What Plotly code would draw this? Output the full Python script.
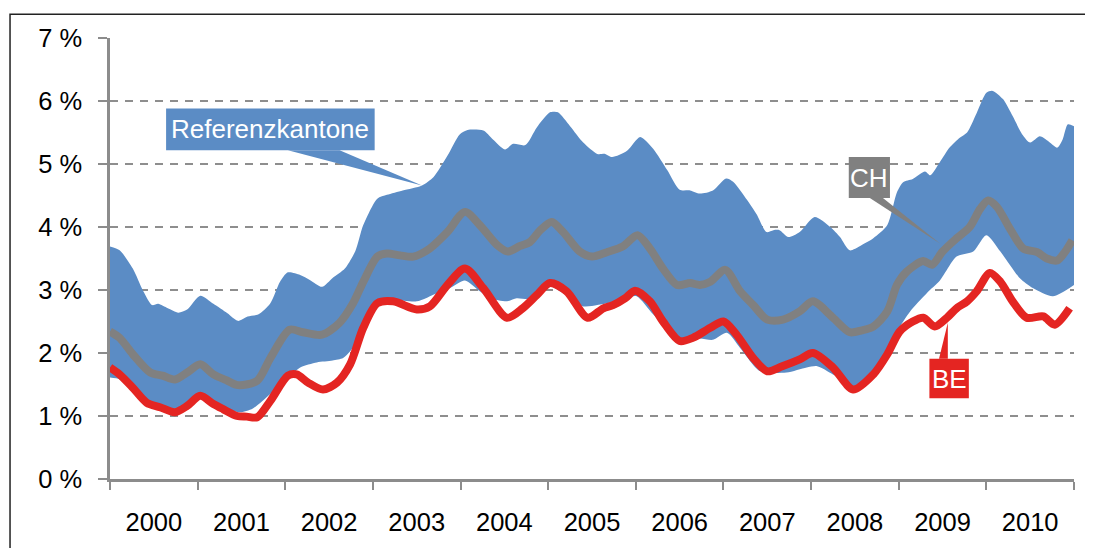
import plotly.graph_objects as go

# ---------------- data (decimal years, percent) ----------------
band_upper_x = [2000.00, 2000.11, 2000.26, 2000.38, 2000.48, 2000.55, 2000.66, 2000.78, 2000.88, 2001.03,
                2001.18, 2001.34, 2001.46, 2001.57, 2001.69, 2001.83, 2001.94, 2002.03, 2002.17, 2002.28,
                2002.42, 2002.54, 2002.68, 2002.80, 2002.89, 2003.05, 2003.16, 2003.34, 2003.56, 2003.69,
                2003.85, 2003.99, 2004.08, 2004.26, 2004.37, 2004.51, 2004.60, 2004.74, 2004.87, 2005.02,
                2005.11, 2005.25, 2005.40, 2005.56, 2005.65, 2005.73, 2005.90, 2006.05, 2006.20, 2006.36,
                2006.50, 2006.62, 2006.73, 2006.88, 2007.03, 2007.11, 2007.27, 2007.38, 2007.49, 2007.57,
                2007.64, 2007.74, 2007.87, 2008.04, 2008.22, 2008.33, 2008.44, 2008.56, 2008.71, 2008.87,
                2008.98, 2009.05, 2009.16, 2009.30, 2009.36, 2009.47, 2009.58, 2009.70, 2009.78, 2009.89,
                2010.00, 2010.07, 2010.19, 2010.30, 2010.41, 2010.50, 2010.61, 2010.70, 2010.81, 2010.87,
                2010.93, 2011.00]
band_upper = [3.69, 3.63, 3.34, 2.98, 2.76, 2.78, 2.71, 2.64, 2.69, 2.91,
              2.78, 2.63, 2.51, 2.58, 2.61, 2.79, 3.13, 3.28, 3.24, 3.16,
              3.05, 3.19, 3.34, 3.62, 4.03, 4.45, 4.51, 4.58, 4.66, 4.79,
              5.13, 5.47, 5.54, 5.53, 5.39, 5.23, 5.32, 5.30, 5.58, 5.82,
              5.82, 5.60, 5.34, 5.16, 5.16, 5.11, 5.21, 5.43, 5.24, 4.90,
              4.59, 4.58, 4.53, 4.58, 4.77, 4.72, 4.43, 4.20, 3.92, 3.95,
              3.95, 3.84, 3.92, 4.16, 4.00, 3.84, 3.63, 3.70, 3.82, 4.03,
              4.55, 4.71, 4.76, 4.88, 4.82, 5.03, 5.26, 5.42, 5.50, 5.81,
              6.13, 6.16, 6.03, 5.76, 5.47, 5.34, 5.44, 5.37, 5.26, 5.39,
              5.63, 5.60]

band_lower_x = [2000.00, 2000.11, 2000.26, 2000.42, 2000.57, 2000.74, 2000.88, 2001.03, 2001.18, 2001.31,
                2001.48, 2001.63, 2001.83, 2002.02, 2002.17, 2002.36, 2002.54, 2002.66, 2002.77, 2002.85,
                2002.97, 2003.08, 2003.23, 2003.50, 2003.73, 2003.88, 2004.05, 2004.22, 2004.34, 2004.53,
                2004.64, 2004.79, 2004.87, 2005.02, 2005.17, 2005.40, 2005.56, 2005.71, 2005.90, 2006.01,
                2006.20, 2006.36, 2006.47, 2006.73, 2006.88, 2007.04, 2007.19, 2007.42, 2007.72, 2007.95,
                2008.07, 2008.25, 2008.41, 2008.48, 2008.71, 2008.87, 2008.98, 2009.13, 2009.32, 2009.47,
                2009.66, 2009.85, 2010.00, 2010.16, 2010.38, 2010.53, 2010.76, 2011.00]
band_lower = [1.61, 1.58, 1.40, 1.18, 1.12, 1.05, 1.14, 1.28, 1.18, 1.12,
              1.06, 1.12, 1.35, 1.58, 1.77, 1.85, 1.88, 1.92, 2.08, 2.25,
              2.55, 2.78, 2.84, 2.82, 2.95, 3.03, 3.15, 2.98, 2.87, 2.82,
              2.87, 2.86, 2.98, 3.06, 2.95, 2.74, 2.76, 2.80, 2.88, 2.90,
              2.61, 2.40, 2.20, 2.23, 2.21, 2.32, 2.08, 1.71, 1.69, 1.77,
              1.79, 1.66, 1.53, 1.45, 1.66, 1.98, 2.34, 2.66, 2.95, 3.15,
              3.53, 3.61, 3.87, 3.61, 3.19, 3.03, 2.90, 3.08]

ch_x = [2000.00, 2000.11, 2000.26, 2000.46, 2000.60, 2000.74, 2000.88, 2001.03, 2001.18, 2001.34,
        2001.46, 2001.68, 2001.83, 2002.05, 2002.20, 2002.42, 2002.62, 2002.77, 2002.89, 2003.05,
        2003.16, 2003.31, 2003.46, 2003.65, 2003.85, 2004.05, 2004.22, 2004.42, 2004.54, 2004.68,
        2004.79, 2004.91, 2005.04, 2005.17, 2005.36, 2005.50, 2005.67, 2005.85, 2006.02, 2006.16,
        2006.31, 2006.47, 2006.62, 2006.73, 2006.85, 2007.02, 2007.19, 2007.34, 2007.50, 2007.68,
        2007.87, 2008.02, 2008.25, 2008.44, 2008.58, 2008.71, 2008.87, 2008.98, 2009.09, 2009.28,
        2009.38, 2009.50, 2009.66, 2009.81, 2009.93, 2010.02, 2010.12, 2010.27, 2010.42, 2010.58,
        2010.69, 2010.81, 2010.90, 2010.98]
ch = [2.34, 2.24, 1.98, 1.69, 1.64, 1.58, 1.69, 1.82, 1.66, 1.56,
      1.49, 1.56, 1.92, 2.37, 2.33, 2.29, 2.48, 2.78, 3.13, 3.53,
      3.58, 3.55, 3.53, 3.66, 3.92, 4.24, 4.03, 3.71, 3.61, 3.70,
      3.76, 3.95, 4.08, 3.92, 3.61, 3.53, 3.60, 3.69, 3.87, 3.66,
      3.34, 3.08, 3.11, 3.08, 3.13, 3.32, 2.98, 2.76, 2.53, 2.53,
      2.66, 2.82, 2.56, 2.33, 2.36, 2.42, 2.66, 3.08, 3.29, 3.46,
      3.40, 3.61, 3.82, 4.00, 4.29, 4.42, 4.32, 3.97, 3.66, 3.60,
      3.50, 3.47, 3.61, 3.79]

be_x = [2000.00, 2000.11, 2000.26, 2000.42, 2000.57, 2000.74, 2000.88, 2001.03, 2001.18, 2001.29,
        2001.45, 2001.56, 2001.68, 2001.83, 2002.03, 2002.13, 2002.26, 2002.43, 2002.59, 2002.74,
        2002.89, 2003.05, 2003.23, 2003.50, 2003.65, 2003.85, 2004.05, 2004.26, 2004.53, 2004.71,
        2004.87, 2005.02, 2005.21, 2005.45, 2005.63, 2005.74, 2005.88, 2005.99, 2006.16, 2006.31,
        2006.50, 2006.65, 2006.85, 2007.00, 2007.15, 2007.34, 2007.50, 2007.67, 2007.87, 2008.02,
        2008.25, 2008.48, 2008.71, 2008.87, 2009.01, 2009.16, 2009.28, 2009.41, 2009.55, 2009.66,
        2009.78, 2009.89, 2010.04, 2010.16, 2010.30, 2010.46, 2010.65, 2010.78, 2010.95]
be = [1.77, 1.66, 1.45, 1.21, 1.14, 1.06, 1.16, 1.32, 1.19, 1.11,
      1.00, 0.99, 0.98, 1.24, 1.64, 1.66, 1.53, 1.42, 1.53, 1.82,
      2.40, 2.79, 2.82, 2.69, 2.74, 3.08, 3.34, 3.03, 2.56, 2.71,
      2.92, 3.11, 2.98, 2.56, 2.71, 2.76, 2.87, 2.99, 2.82, 2.50,
      2.19, 2.24, 2.40, 2.50, 2.29, 1.92, 1.71, 1.79, 1.90, 2.00,
      1.77, 1.42, 1.66, 1.98, 2.34, 2.50, 2.56, 2.42, 2.56, 2.71,
      2.82, 2.98, 3.27, 3.13, 2.82, 2.56, 2.58, 2.45, 2.71]

years = [str(y) for y in range(2000, 2011)]
y_ticks = [0, 1, 2, 3, 4, 5, 6, 7]
y_ticktext = [f"{v} %" for v in y_ticks]

# ---------------- styles ----------------
BLUE = "#5B8CC5"
GRAY = "#808080"
RED = "#E42522"
AXIS = "#8C8C8C"
FONT = "Liberation Sans, Arial, sans-serif"
FS_TICK = 25.5
FS_LABEL = 26

fig = go.Figure()
fig.add_trace(go.Scatter(x=band_lower_x, y=band_lower, mode="lines",
                         line=dict(width=0, color=BLUE, shape="spline", smoothing=0.7),
                         hoverinfo="skip", showlegend=False))
fig.add_trace(go.Scatter(x=band_upper_x, y=band_upper, mode="lines", fill="tonexty",
                         fillcolor=BLUE,
                         line=dict(width=0, color=BLUE, shape="spline", smoothing=0.7),
                         name="Referenzkantone", showlegend=False))
fig.add_trace(go.Scatter(x=ch_x, y=ch, mode="lines",
                         line=dict(width=8, color=GRAY, shape="spline", smoothing=0.8),
                         name="CH", showlegend=False))
fig.add_trace(go.Scatter(x=be_x, y=be, mode="lines",
                         line=dict(width=8, color=RED, shape="spline", smoothing=0.8),
                         name="BE", showlegend=False))

shapes = []
# outer frame: only the left and top sides are inside the picture
shapes.append(dict(type="path", xref="paper", yref="paper",
                   path="M -0.1037,-0.3 L -0.1037,1.054 L 1.03,1.054",
                   line=dict(color="#222222", width=1.5), layer="above"))
# callout: Referenzkantone
shapes.append(dict(type="path", xref="x", yref="y", path="M 2002.03,5.22 L 2002.62,5.22 L 2003.56,4.66 Z",
                   fillcolor=BLUE, line=dict(width=0), layer="above"))
shapes.append(dict(type="rect", xref="x", yref="y", x0=2000.64, x1=2003.02, y0=5.22, y1=5.88,
                   fillcolor=BLUE, line=dict(width=0), layer="above"))
# callout: CH
shapes.append(dict(type="path", xref="x", yref="y", path="M 2008.67,4.46 L 2008.82,4.46 L 2009.47,3.74 Z",
                   fillcolor=GRAY, line=dict(width=0), layer="above"))
shapes.append(dict(type="rect", xref="x", yref="y", x0=2008.43, x1=2008.90, y0=4.46, y1=5.11,
                   fillcolor=GRAY, line=dict(width=0), layer="above"))
# callout: BE
shapes.append(dict(type="path", xref="x", yref="y", path="M 2009.46,1.91 L 2009.56,1.91 L 2009.56,2.48 Z",
                   fillcolor=RED, line=dict(width=0), layer="above"))
shapes.append(dict(type="rect", xref="x", yref="y", x0=2009.35, x1=2009.80, y0=1.28, y1=1.91,
                   fillcolor=RED, line=dict(width=0), layer="above"))

annotations = [
    dict(x=2001.83, y=5.55, xref="x", yref="y", text="Referenzkantone", showarrow=False,
         font=dict(family=FONT, size=FS_LABEL, color="white")),
    dict(x=2008.665, y=4.785, xref="x", yref="y", text="CH", showarrow=False,
         font=dict(family=FONT, size=FS_LABEL, color="white")),
    dict(x=2009.575, y=1.595, xref="x", yref="y", text="BE", showarrow=False,
         font=dict(family=FONT, size=FS_LABEL, color="white")),
]

# the page body has an 8px default margin; the figure is sized so that the plot
# area lands where the reference's axes are and the page does not overflow
fig.update_layout(
    width=1085, height=540,
    margin=dict(l=102, r=19, t=30, b=66),
    paper_bgcolor="white", plot_bgcolor="white",
    font=dict(family=FONT, size=FS_TICK, color="black"),
    showlegend=False,
    shapes=shapes, annotations=annotations,
    xaxis=dict(range=[2000, 2011], tickvals=[int(y) + 0.5 for y in years], ticktext=years,
               ticks="outside", ticklen=19, tickcolor="rgba(0,0,0,0)",
               showgrid=False, zeroline=False, showline=True, linecolor=AXIS, linewidth=2.5,
               minor=dict(tickvals=list(range(2000, 2012)), ticks="outside", ticklen=8,
                          tickcolor=AXIS, tickwidth=2, showgrid=False),
               tickfont=dict(family=FONT, size=FS_TICK, color="black"), fixedrange=True),
    yaxis=dict(range=[0, 7], tickvals=y_ticks, ticktext=y_ticktext,
               ticks="outside", ticklen=9, tickcolor=AXIS, tickwidth=2,
               ticklabelstandoff=11,
               showgrid=True, gridcolor="#8E8E8E", gridwidth=2, griddash="8px,7px",
               zeroline=False, showline=True, linecolor=AXIS, linewidth=2.5,
               tickfont=dict(family=FONT, size=FS_TICK, color="black"), fixedrange=True),
)

fig.write_html("out.html")
